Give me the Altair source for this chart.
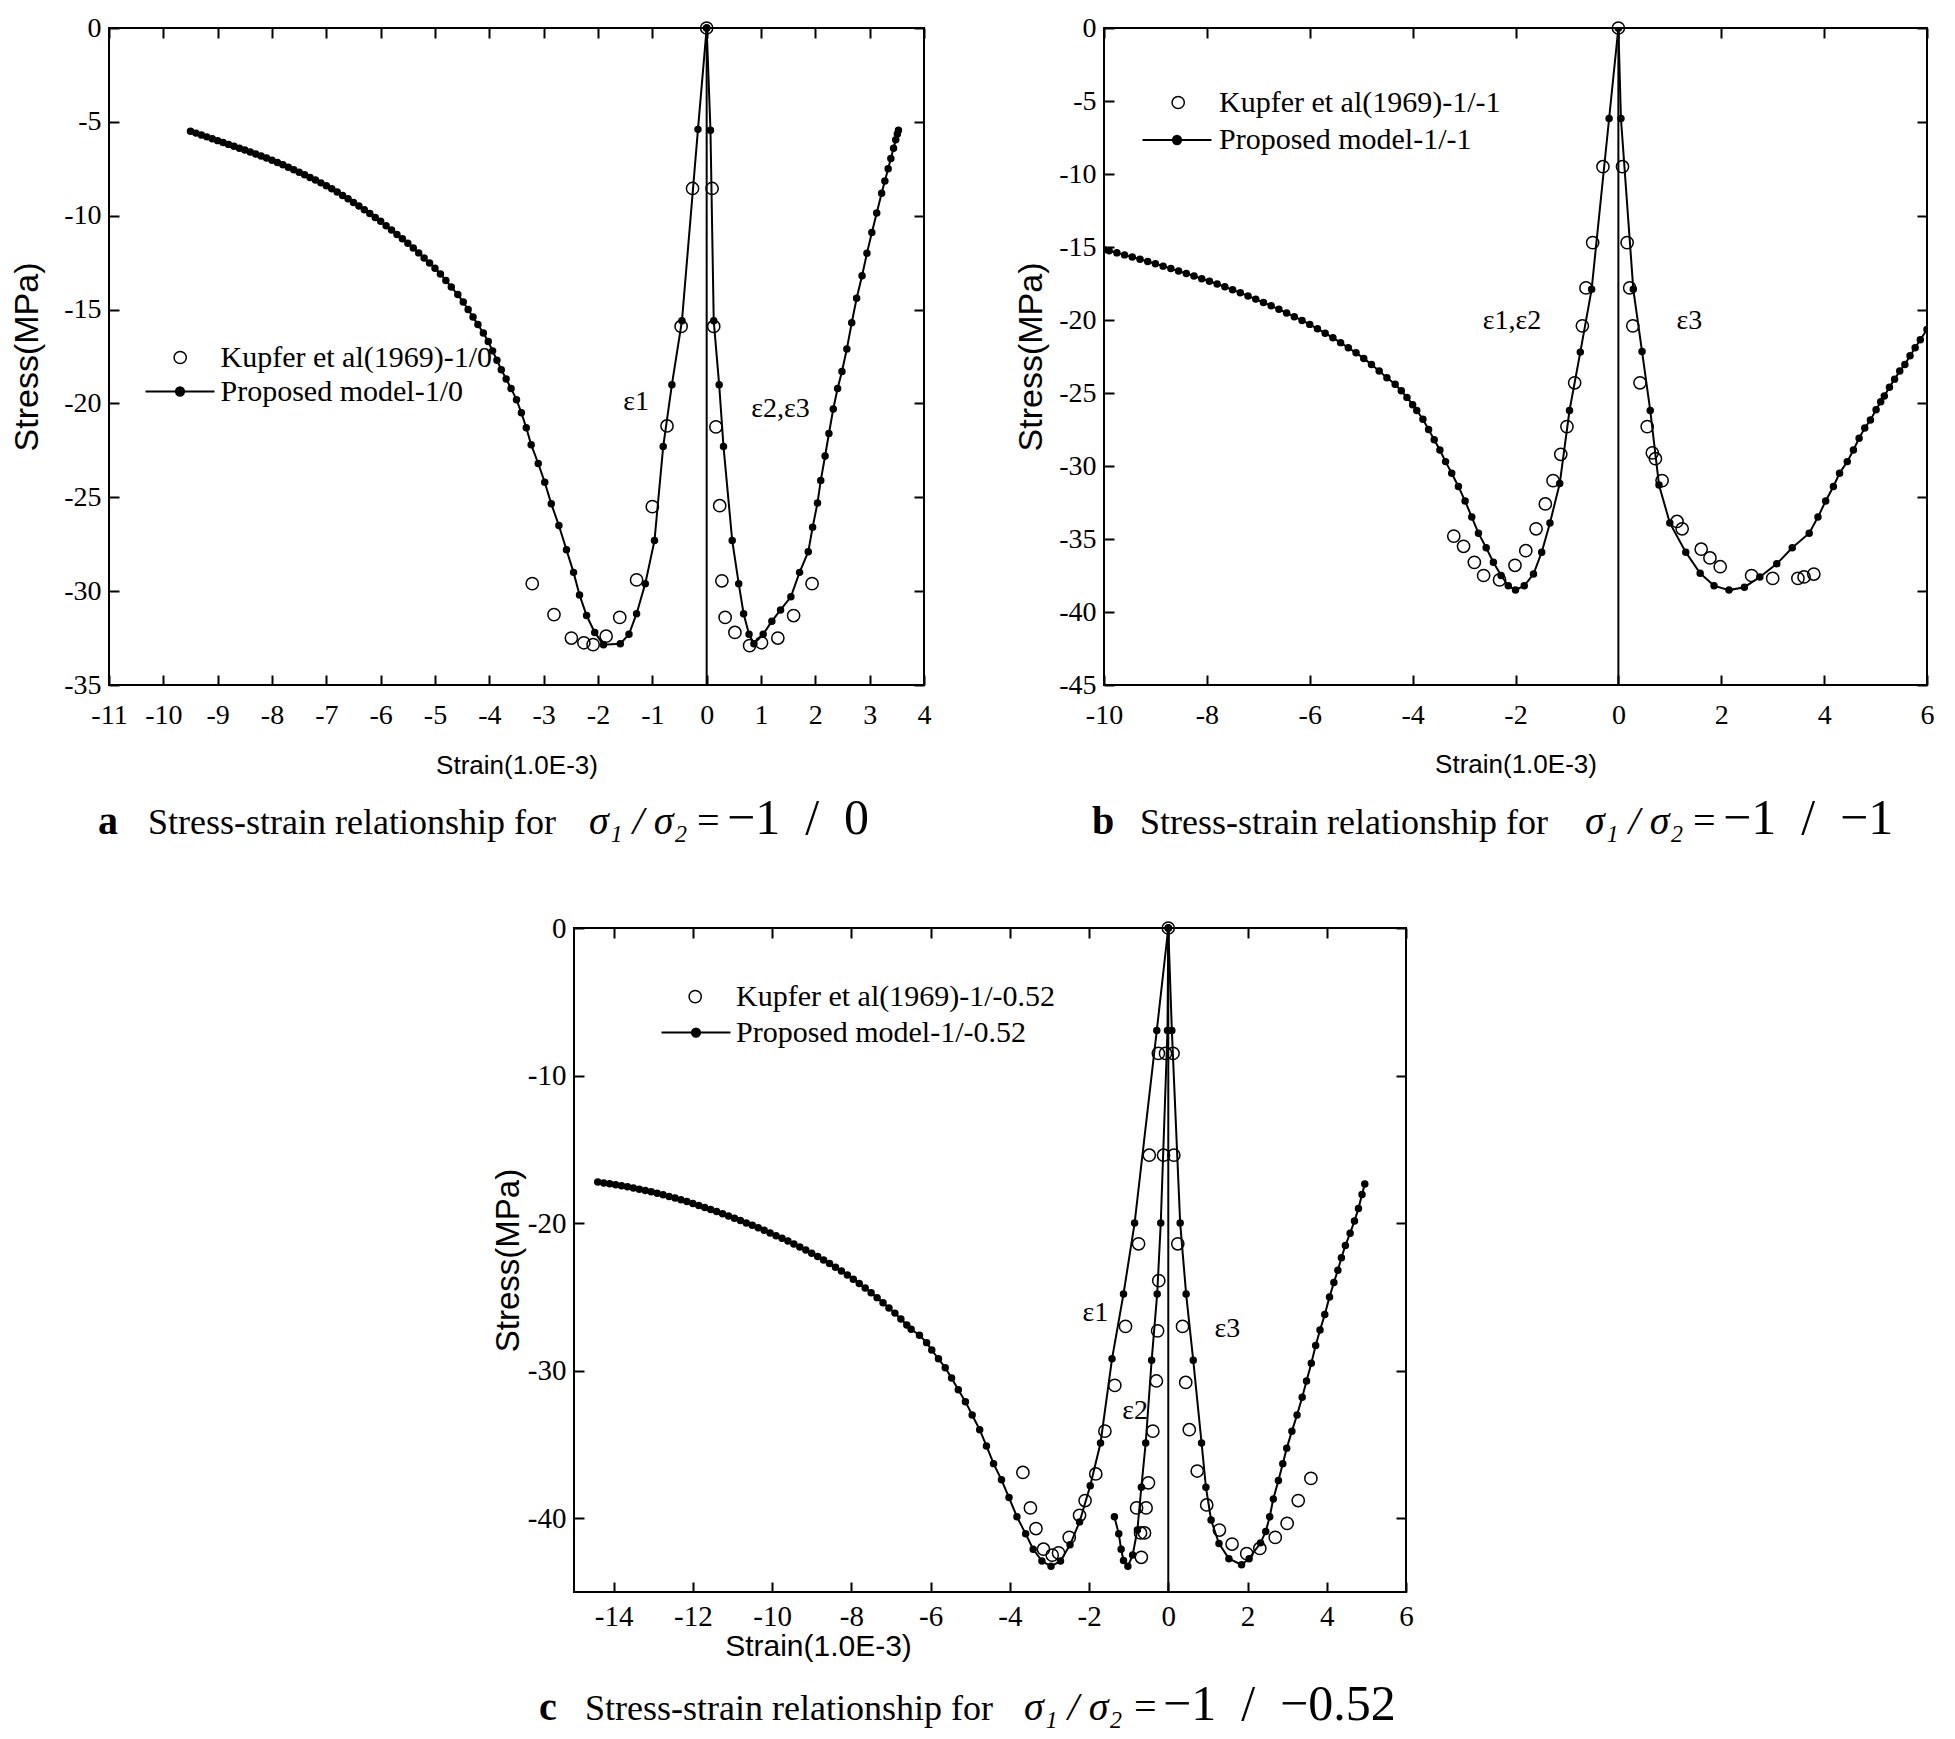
import altair as alt
import pandas as pd

SERIF = "Liberation Serif"
SANS = "Liberation Sans"

# ---------------- Panel a : sigma1/sigma2 = -1/0 ----------------
A_E1_STRAIN = [0, -0.16, -0.455, -0.64, -0.80, -0.96, -1.13, -1.29, -1.43, -1.59, -1.90,
               -2.06, -2.21, -2.34, -2.45, -2.58, -2.72, -2.86, -2.98, -3.10, -3.23,
               -3.32, -3.41, -3.50, -3.60, -3.69, -3.78, -3.86, -3.94, -4.02, -4.11,
               -4.21, -4.30, -4.39, -4.48, -4.58, -4.70, -4.80, -4.90, -5.00, -5.10,
               -5.20, -5.30, -5.40, -5.50, -5.60, -5.70, -5.80, -5.90, -6.00, -6.10,
               -6.20, -6.30, -6.40, -6.50, -6.60, -6.70, -6.80, -6.90, -7.00, -7.10,
               -7.20, -7.30, -7.40, -7.50, -7.60, -7.70, -7.80, -7.90, -8.00, -8.10,
               -8.20, -8.30, -8.40, -8.50, -8.60, -8.70, -8.80, -8.90, -9.00, -9.10,
               -9.20, -9.30, -9.40, -9.50]
A_E1_STRESS = [0, -5.4, -15.6, -19.0, -22.3, -27.3, -29.6, -31.2, -32.3, -32.8, -32.85,
               -32.2, -31.3, -30.2, -29.0, -27.8, -26.5, -25.35, -24.2, -23.2, -22.2,
               -21.3, -20.5, -19.8, -19.2, -18.7, -18.2, -17.7, -17.2, -16.7, -16.25,
               -15.8, -15.4, -15.0, -14.6, -14.2, -13.8, -13.45, -13.1, -12.8, -12.52,
               -12.25, -11.98, -11.72, -11.47, -11.23, -11.0, -10.76, -10.53, -10.3, -10.09,
               -9.88, -9.68, -9.48, -9.29, -9.1, -8.92, -8.74, -8.56, -8.4, -8.25,
               -8.1, -7.96, -7.82, -7.68, -7.55, -7.42, -7.29, -7.16, -7.04, -6.93,
               -6.82, -6.71, -6.6, -6.5, -6.4, -6.3, -6.2, -6.1, -6.0, -5.9,
               -5.8, -5.7, -5.6, -5.5]
A_E23_STRAIN = [0, 0.07, 0.13, 0.23, 0.31, 0.47, 0.59, 0.68, 0.78, 0.87,
                1.04, 1.20, 1.36, 1.55, 1.71, 1.87, 1.95, 2.04, 2.10, 2.18,
                2.25, 2.33, 2.41, 2.49, 2.58, 2.67, 2.76, 2.86, 2.95, 3.04,
                3.13, 3.22, 3.28, 3.34, 3.39, 3.44, 3.48, 3.51, 3.53]
A_E23_STRESS = [0, -5.45, -15.6, -19.0, -22.3, -27.3, -29.6, -31.2, -32.3, -32.8,
                -32.3, -31.6, -31.0, -30.3, -29.0, -27.9, -26.6, -25.3, -24.1, -22.8,
                -21.6, -20.3, -19.2, -18.3, -17.1, -15.7, -14.4, -13.2, -12.0, -10.9,
                -9.86, -8.8, -8.15, -7.5, -6.95, -6.4, -5.95, -5.65, -5.45]
A_KUP_STRAIN = [0, -0.26, -0.47, -0.73, -1.0, -1.29, -1.6, -1.85, -2.09, -2.26, -2.49, -2.81, -3.21,
                0.1, 0.13, 0.17, 0.24, 0.28, 0.34, 0.52, 0.79, 1.01, 1.31, 1.6, 1.94]
A_KUP_STRESS = [0, -8.55, -15.9, -21.2, -25.5, -29.4, -31.4, -32.4, -32.85, -32.75, -32.5, -31.25, -29.6,
                -8.55, -15.9, -21.25, -25.45, -29.45, -31.4, -32.2, -32.9, -32.75, -32.5, -31.3, -29.6]

# ---------------- Panel b : sigma1/sigma2 = -1/-1 ----------------
B_E12_STRAIN = [0, -0.18, -0.52, -0.74, -0.95, -1.14, -1.33, -1.49, -1.65, -1.83,
                -2.0, -2.14, -2.28, -2.43, -2.57, -2.72, -2.85, -2.98, -3.11, -3.24,
                -3.36, -3.47, -3.58, -3.69, -3.80, -3.92, -4.00, -4.11, -4.22, -4.34,
                -4.5, -4.65, -4.8, -4.95, -5.1, -5.25, -5.4, -5.55, -5.7, -5.85,
                -6.0, -6.15, -6.3, -6.45, -6.6, -6.75, -6.9, -7.05, -7.2, -7.35,
                -7.5, -7.65, -7.8, -7.95, -8.1, -8.25, -8.4, -8.55, -8.7, -8.85,
                -9.0, -9.15, -9.3, -9.45, -9.6, -9.75, -9.9, -10.0]
B_E12_STRESS = [0, -6.2, -17.9, -22.2, -26.2, -31.2, -33.9, -35.9, -37.4, -38.2,
                -38.5, -38.2, -37.5, -36.6, -35.6, -34.6, -33.5, -32.4, -31.4, -30.5,
                -29.7, -28.9, -28.2, -27.5, -26.8, -26.2, -25.8, -25.3, -24.85, -24.4,
                -23.95, -23.5, -23.05, -22.63, -22.25, -21.9, -21.55, -21.22, -20.9, -20.6,
                -20.3, -20.03, -19.77, -19.52, -19.27, -19.03, -18.8, -18.57, -18.35, -18.14,
                -17.93, -17.73, -17.53, -17.35, -17.17, -16.99, -16.82, -16.65, -16.48, -16.31,
                -16.15, -15.99, -15.84, -15.69, -15.54, -15.4, -15.26, -15.18]
B_E3_STRAIN = [0, 0.05, 0.29, 0.46, 0.62, 0.79, 1.0, 1.31, 1.59, 1.86,
               2.15, 2.45, 2.75, 3.08, 3.38, 3.71, 3.88, 4.03, 4.18, 4.30,
               4.45, 4.57, 4.68, 4.79, 4.9, 5.01, 5.1, 5.17, 5.27, 5.37,
               5.47, 5.57, 5.67, 5.77, 5.87, 6.0]
B_E3_STRESS = [0, -6.2, -17.9, -22.15, -26.2, -31.3, -33.9, -35.9, -37.35, -38.2,
               -38.5, -38.3, -37.6, -36.7, -35.6, -34.6, -33.5, -32.4, -31.4, -30.5,
               -29.7, -28.9, -28.1, -27.4, -26.85, -26.15, -25.6, -25.2, -24.6, -24.05,
               -23.5, -23.05, -22.45, -21.9, -21.35, -20.65]
B_KUP_STRAIN = [0, -0.3, -0.5, -0.63, -0.7, -0.85, -1.0, -1.12, -1.27, -1.42, -1.6, -1.8,
                -2.01, -2.31, -2.62, -2.8, -3.01, -3.2,
                0.08, 0.17, 0.22, 0.28, 0.42, 0.56, 0.66, 0.72, 0.85, 1.14, 1.24, 1.61,
                1.78, 1.98, 2.59, 3.0, 3.49, 3.61, 3.8]
B_KUP_STRESS = [0, -9.5, -14.7, -17.8, -20.4, -24.3, -27.3, -29.2, -31.0, -32.6, -34.3, -35.8,
                -36.8, -37.8, -37.5, -36.6, -35.5, -34.8,
                -9.5, -14.7, -17.8, -20.4, -24.3, -27.3, -29.1, -29.5, -31.0, -33.8, -34.3, -35.7,
                -36.3, -36.9, -37.5, -37.7, -37.7, -37.6, -37.4]

# ---------------- Panel c : sigma1/sigma2 = -1/-0.52 ----------------
C_E1_STRAIN = [0, -0.29, -0.85, -1.13, -1.42, -1.71, -1.97, -2.24, -2.48, -2.72,
               -2.96, -3.19, -3.41, -3.60, -3.82, -4.02, -4.21, -4.41, -4.59, -4.76,
               -4.95, -5.12, -5.30, -5.47, -5.63, -5.80, -5.97, -6.10, -6.28, -6.49,
               -6.6, -6.75, -6.9, -7.05, -7.2, -7.35, -7.5, -7.65, -7.8, -7.95,
               -8.1, -8.25, -8.4, -8.55, -8.7, -8.85, -9.0, -9.15, -9.3, -9.45,
               -9.6, -9.75, -9.9, -10.05, -10.2, -10.35, -10.5, -10.65, -10.8, -10.95,
               -11.1, -11.25, -11.4, -11.55, -11.7, -11.85, -12.0, -12.15, -12.3, -12.45,
               -12.6, -12.75, -12.9, -13.05, -13.2, -13.35, -13.5, -13.65, -13.8, -13.95,
               -14.1, -14.25, -14.4]
C_E1_STRESS = [0, -6.94, -20.0, -24.8, -29.2, -34.9, -37.8, -40.25, -41.8, -42.9,
               -43.26, -42.9, -42.1, -41.06, -39.9, -38.6, -37.4, -36.3, -35.1, -34.0,
               -33.0, -32.1, -31.3, -30.5, -29.8, -29.2, -28.6, -28.1, -27.6, -27.2,
               -26.9, -26.5, -26.1, -25.75, -25.4, -25.05, -24.72, -24.4, -24.1, -23.8,
               -23.52, -23.25, -22.99, -22.74, -22.5, -22.27, -22.05, -21.83, -21.62, -21.42,
               -21.22, -21.03, -20.85, -20.67, -20.49, -20.32, -20.15, -19.99, -19.83, -19.67,
               -19.52, -19.37, -19.22, -19.08, -18.94, -18.8, -18.67, -18.54, -18.42, -18.3,
               -18.19, -18.08, -17.98, -17.88, -17.79, -17.7, -17.62, -17.54, -17.47, -17.4,
               -17.34, -17.28, -17.22]
C_E2_STRAIN = [0, -0.02, -0.19, -0.28, -0.42, -0.57, -0.68, -0.78, -0.90, -1.02, -1.13, -1.19, -1.25, -1.36]
C_E2_STRESS = [0, -6.94, -20.0, -24.8, -29.3, -34.9, -37.9, -40.8, -42.5, -43.26, -42.87, -42.1, -41.06, -39.9]
C_E3_STRAIN = [0, 0.09, 0.30, 0.45, 0.63, 0.84, 0.95, 1.08, 1.28, 1.53,
               1.85, 2.04, 2.33, 2.46, 2.56, 2.65, 2.78, 2.89, 2.99, 3.12,
               3.25, 3.38, 3.49, 3.61, 3.72, 3.83, 3.95, 4.07, 4.18, 4.28,
               4.37, 4.47, 4.59, 4.70, 4.80, 4.89, 4.96]
C_E3_STRESS = [0, -6.94, -20.0, -24.8, -29.3, -34.9, -37.9, -40.12, -41.72, -42.74,
               -43.15, -42.74, -41.67, -40.9, -39.9, -38.7, -37.45, -36.3, -35.25, -34.1,
               -33.0, -31.8, -30.7, -29.5, -28.3, -27.25, -26.2, -25.0, -24.02, -23.19,
               -22.35, -21.52, -20.68, -19.85, -19.01, -18.06, -17.35]
C_KUP_STRAIN = [0, -0.25, -0.48, -0.75, -1.08, -1.35, -1.6, -1.83, -2.1, -2.24, -2.5, -2.77, -2.93,
                -3.15, -3.34, -3.48, -3.67,
                -0.07, -0.12, -0.24, -0.27, -0.3, -0.39, -0.5, -0.56, -0.8, -0.6, -0.7, -0.68,
                0.12, 0.14, 0.24, 0.36, 0.44, 0.53, 0.73, 0.97, 1.29, 1.61, 1.98, 2.31, 2.7,
                3.0, 3.28, 3.6]
C_KUP_STRESS = [0, -8.5, -15.4, -21.4, -27.0, -31.0, -34.1, -37.0, -38.8, -39.8, -41.3, -42.35, -42.5,
                -42.1, -40.7, -39.3, -36.9,
                -8.5, -15.4, -23.9, -27.3, -30.7, -34.1, -37.6, -39.3, -39.3, -41.0, -41.0, -42.65,
                -8.5, -15.4, -21.4, -27.0, -30.8, -34.0, -36.8, -39.1, -40.8, -41.75, -42.4, -42.05, -41.3,
                -40.35, -38.8, -37.3]

ZERO_STRAIN = [0]

# axis tick values
A_X_TICKS = list(range(-11, 5))
A_Y_TICKS = [0, -5, -10, -15, -20, -25, -30, -35]
B_X_TICKS = [-10, -8, -6, -4, -2, 0, 2, 4, 6]
B_Y_TICKS = [0, -5, -10, -15, -20, -25, -30, -35, -40, -45]
B_Y_RIGHT_TICKS = [0, -6.4286, -12.8571, -19.2857, -25.7143, -32.1429, -38.5714, -45]
C_X_TICKS = [-14, -12, -10, -8, -6, -4, -2, 0, 2, 4, 6]
C_Y_TICKS = [0, -10, -20, -30, -40]

# annotation labels (label, strain, stress)
A_EPS = [("ε1", -1.3, -19.9), ("ε2,ε3", 1.36, -20.3)]
B_EPS = [("ε1,ε2", -2.07, -20.06), ("ε3", 1.38, -20.06)]
C_EPS = [("ε1", -1.84, -26.1), ("ε2", -0.84, -32.7), ("ε3", 1.49, -27.2)]

CAPTION_A = ["a", "Stress-strain relationship for", "σ₁ / σ₂", "=", "−1\u2002/\u20020"]
CAPTION_B = ["b", "Stress-strain relationship for", "σ₁ / σ₂", "=", "−1\u2002/\u2002−1"]
CAPTION_C = ["c", "Stress-strain relationship for", "σ₁ / σ₂", "=", "−1\u2002/\u2002−0.52"]

MODEL_SYMBOL = "M-1,0L1,0M0.12,0A0.12,0.12,0,1,1,-0.12,0A0.12,0.12,0,1,1,0.12,0Z"
LEG_SYM_W = 69
TICK = 10


def series_frame(branches):
    rows = []
    for name, xs, ys in branches:
        assert len(xs) == len(ys), name
        for i, (x, y) in enumerate(zip(xs, ys)):
            rows.append({"branch": name, "i": i, "strain": x, "stress": y})
    return pd.DataFrame(rows)


def tick_axis(orient, values):
    return alt.Axis(orient=orient, offset=-TICK, values=values, labels=False, domain=False,
                    grid=False, ticks=True, tickSize=TICK, tickWidth=2, tickColor="black",
                    title=None, minExtent=0)


def make_panel(p):
    W, H = p["width"], p["height"]
    xs = alt.Scale(domain=p["xdom"], nice=False, zero=False)
    ys = alt.Scale(domain=p["ydom"], nice=False, zero=False)

    model = series_frame(p["model"])
    model["series"] = p["model_label"]
    assert len(p["kx"]) == len(p["ky"])
    kup = pd.DataFrame({"strain": p["kx"], "stress": p["ky"]})
    kup["series"] = p["kupfer_label"]

    x_main = alt.Axis(orient="bottom", values=p["xticks"], labelExpr="toString(datum.value)",
                      ticks=False, domain=False, grid=False, labelFont=SERIF,
                      labelFontSize=p["tick_fs"], labelColor="black", labelPadding=p["xlab_pad"],
                      labelFlush=False, labelOverlap=False,
                      title="Strain(1.0E-3)", titleFont=SANS, titleFontSize=p["xtitle_fs"],
                      titleFontWeight="normal", titleColor="black", titleX=p["xtitle_x"],
                      titleY=p["xtitle_y"], titleBaseline="middle", titleAlign="center")
    y_main = alt.Axis(orient="left", values=p["yticks"], labelExpr="toString(datum.value)",
                      ticks=False, domain=False, grid=False, labelFont=SERIF,
                      labelFontSize=p["tick_fs"], labelColor="black", labelPadding=8,
                      labelOverlap=False, labelFlush=False,
                      title="Stress(MPa)", titleFont=SANS, titleFontSize=p["ytitle_fs"],
                      titleFontWeight="normal", titleColor="black", titleAngle=270,
                      titleX=p["ytitle_x"], titleY=H / 2, titleBaseline="middle",
                      titleAlign="center", minExtent=p["left_extent"],
                      maxExtent=p["left_extent"])

    lines = alt.Chart(model).mark_line(color="black", strokeWidth=2, clip=p["clip"]).encode(
        x=alt.X("strain:Q", scale=xs, axis=x_main),
        y=alt.Y("stress:Q", scale=ys, axis=y_main),
        detail="branch:N",
        order="i:Q",
    )

    kx, ky = p["leg_kupfer"]
    mx, my = p["leg_model"]
    text_x = p["leg_text_x"]

    dots = alt.Chart(model).mark_point(filled=True, size=30, stroke="black", strokeWidth=2,
                                       opacity=1, clip=p["clip"]).encode(
        x=alt.X("strain:Q", scale=xs, axis=tick_axis("bottom", p["xticks"])),
        y=alt.Y("stress:Q", scale=ys, axis=tick_axis("left", p["yticks"])),
        color=alt.Color("series:N",
                        scale=alt.Scale(domain=[p["model_label"]], range=["black"]),
                        legend=alt.Legend(orient="none", legendX=mx - LEG_SYM_W / 2,
                                          legendY=my - LEG_SYM_W / 2, title=None,
                                          symbolType=MODEL_SYMBOL, symbolSize=LEG_SYM_W ** 2,
                                          symbolStrokeWidth=2, symbolStrokeColor="black",
                                          symbolFillColor="black", labelFont=SERIF,
                                          labelFontSize=30, labelColor="black",
                                          labelOffset=text_x - (mx + LEG_SYM_W / 2) - 2,
                                          padding=0, labelLimit=1000)),
    )

    k_lx = kx - 13.8
    circles = alt.Chart(kup).mark_point(filled=False, size=150, strokeWidth=1.5, color="black",
                                        opacity=1).encode(
        x=alt.X("strain:Q", scale=xs, axis=tick_axis("top", p["xticks_top"])),
        y=alt.Y("stress:Q", scale=ys, axis=tick_axis("right", p["yticks_right"])),
        shape=alt.Shape("series:N",
                        scale=alt.Scale(domain=[p["kupfer_label"]], range=["circle"]),
                        legend=alt.Legend(orient="none", legendX=k_lx, legendY=ky - 15,
                                          title=None, symbolSize=150, symbolStrokeWidth=1.5,
                                          symbolStrokeColor="black", labelFont=SERIF,
                                          labelFontSize=30, labelColor="black",
                                          labelOffset=text_x - k_lx - 30, padding=0,
                                          labelLimit=1000)),
    )

    zero = alt.Chart(pd.DataFrame({"strain": ZERO_STRAIN})).mark_rule(
        color="black", strokeWidth=2).encode(x=alt.X("strain:Q", scale=xs, axis=None))

    eps = alt.Chart(pd.DataFrame(p["eps"], columns=["label", "strain", "stress"])).mark_text(
        font=SERIF, fontSize=28, color="black", align="center", baseline="middle").encode(
        x=alt.X("strain:Q", scale=xs, axis=None),
        y=alt.Y("stress:Q", scale=ys, axis=None),
        text="label:N",
    )

    styles = [dict(fontSize=40, fontWeight="bold", fontStyle="normal"),
              dict(fontSize=36, fontWeight="normal", fontStyle="normal"),
              dict(fontSize=40, fontWeight="normal", fontStyle="italic"),
              dict(fontSize=40, fontWeight="normal", fontStyle="normal"),
              dict(fontSize=50, fontWeight="normal", fontStyle="normal")]
    caps = []
    for txt, cx, st in zip(p["caption"], p["cap_x"], styles):
        caps.append(alt.Chart(pd.DataFrame({"t": [txt]})).mark_text(
            font=SERIF, align="left", baseline="alphabetic", color="black", **st).encode(
            x=alt.value(cx), y=alt.value(p["cap_y"]), text="t:N"))

    return alt.layer(lines, dots, circles, zero, eps, *caps).resolve_axis(
        x="independent", y="independent").properties(width=W, height=H)


panel_a = make_panel(dict(
    width=815, height=657, xdom=[-11, 4], ydom=[-35, 0],
    model=[("e1", A_E1_STRAIN, A_E1_STRESS), ("e23", A_E23_STRAIN, A_E23_STRESS)],
    kx=A_KUP_STRAIN, ky=A_KUP_STRESS,
    model_label="Proposed model-1/0", kupfer_label="Kupfer et al(1969)-1/0",
    xticks=A_X_TICKS, yticks=A_Y_TICKS, xticks_top=A_X_TICKS, yticks_right=A_Y_TICKS,
    tick_fs=28, xtitle_fs=26, ytitle_fs=34, xtitle_x=815 / 2, xtitle_y=80, xlab_pad=16,
    ytitle_x=-82, left_extent=100,
    leg_kupfer=(70, 329.5), leg_model=(70, 362.5), leg_text_x=111.5,
    eps=A_EPS, caption=CAPTION_A, cap_x=[-11, 39, 480, 588, 618], cap_y=806, clip=False,
))

panel_b = make_panel(dict(
    width=823, height=657, xdom=[-10, 6], ydom=[-45, 0],
    model=[("e12", B_E12_STRAIN, B_E12_STRESS), ("e3", B_E3_STRAIN, B_E3_STRESS)],
    kx=B_KUP_STRAIN, ky=B_KUP_STRESS,
    model_label="Proposed model-1/-1", kupfer_label="Kupfer et al(1969)-1/-1",
    xticks=B_X_TICKS, yticks=B_Y_TICKS, xticks_top=B_X_TICKS, yticks_right=B_Y_RIGHT_TICKS,
    tick_fs=28, xtitle_fs=26, ytitle_fs=34, xtitle_x=823 / 2, xtitle_y=79, xlab_pad=16,
    ytitle_x=-73, left_extent=90,
    leg_kupfer=(73, 74.5), leg_model=(72, 111), leg_text_x=115,
    eps=B_EPS, caption=CAPTION_B, cap_x=[-12, 36, 481, 589, 619], cap_y=806, clip=True,
))

panel_c = make_panel(dict(
    width=832, height=664, xdom=[-15, 6], ydom=[-45, 0],
    model=[("e1", C_E1_STRAIN, C_E1_STRESS), ("e2", C_E2_STRAIN, C_E2_STRESS),
           ("e3", C_E3_STRAIN, C_E3_STRESS)],
    kx=C_KUP_STRAIN, ky=C_KUP_STRESS,
    model_label="Proposed model-1/-0.52", kupfer_label="Kupfer et al(1969)-1/-0.52",
    xticks=C_X_TICKS, yticks=C_Y_TICKS, xticks_top=C_X_TICKS, yticks_right=C_Y_TICKS,
    tick_fs=29, xtitle_fs=30, ytitle_fs=33, xtitle_x=244, xtitle_y=54, xlab_pad=10,
    ytitle_x=-66, left_extent=85,
    leg_kupfer=(120, 68.6), leg_model=(121, 103.6), leg_text_x=162,
    eps=C_EPS, caption=CAPTION_C, cap_x=[-35, 11, 450, 560, 589], cap_y=792, clip=False,
))

# empty spacer that pushes panel c to the right
SPACER_W = 378
spacer = alt.Chart(pd.DataFrame({"v": [0]})).mark_point(opacity=0, size=1).encode(
    x=alt.value(0), y=alt.value(0)).properties(
    width=SPACER_W, height=10, view=alt.ViewBackground(stroke="transparent"))

top_row = alt.hconcat(panel_a, panel_b, spacing=81).resolve_scale(
    color="independent", shape="independent")
bottom_row = alt.hconcat(spacer, panel_c, spacing=0).resolve_scale(
    color="independent", shape="independent")
chart = alt.vconcat(top_row, bottom_row, spacing=68).resolve_scale(
    color="independent", shape="independent").properties(
    padding={"left": 0, "top": 5, "right": 0, "bottom": 0},
    background="white",
).configure_view(stroke="black", strokeWidth=2)

chart.save("out.html", embed_options={"renderer": "svg", "actions": False})
